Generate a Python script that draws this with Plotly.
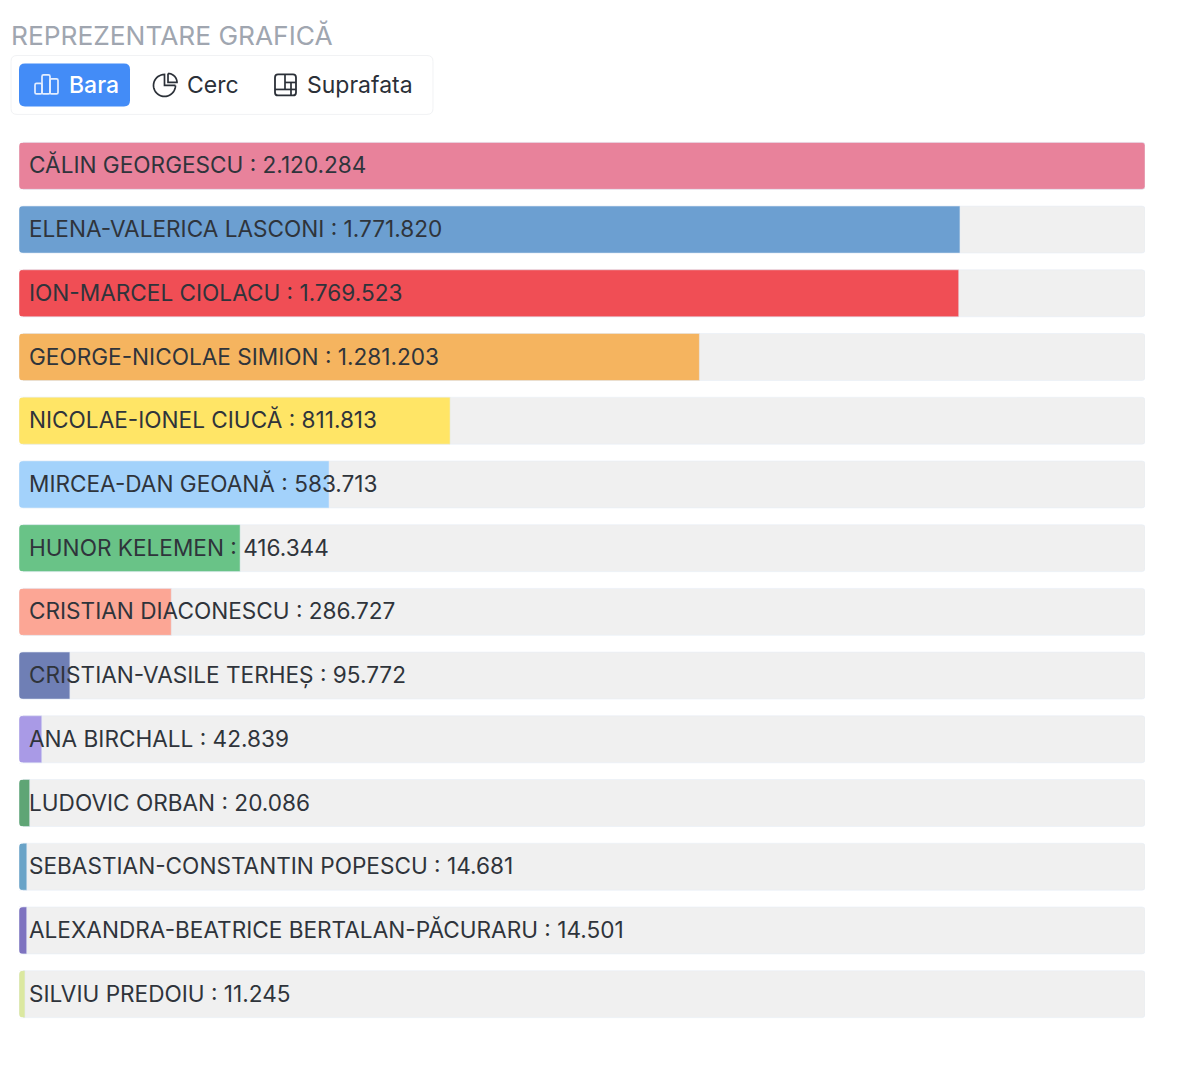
import math
import plotly.graph_objects as go

names = ["CĂLIN GEORGESCU", "ELENA-VALERICA LASCONI", "ION-MARCEL CIOLACU", "GEORGE-NICOLAE SIMION",
         "NICOLAE-IONEL CIUCĂ", "MIRCEA-DAN GEOANĂ", "HUNOR KELEMEN", "CRISTIAN DIACONESCU",
         "CRISTIAN-VASILE TERHEȘ", "ANA BIRCHALL", "LUDOVIC ORBAN", "SEBASTIAN-CONSTANTIN POPESCU",
         "ALEXANDRA-BEATRICE BERTALAN-PĂCURARU", "SILVIU PREDOIU"]
votes = [2120284, 1771820, 1769523, 1281203, 811813, 583713, 416344, 286727, 95772, 42839, 20086, 14681, 14501, 11245]
colors = ["#e8829b", "#6c9fd1", "#f04e55", "#f5b45f", "#ffe566", "#a3d2fb", "#69c387", "#fca695",
          "#6f7fb5", "#a99ae6", "#5fa575", "#69a3c7", "#7e73c0", "#dbe8a0"]
labels = [f"{n} : {v:,}".replace(",", ".") for n, v in zip(names, votes)]
track = [max(votes)] * len(votes)

W, H = 1200, 1068
L, R, T, B = 19, 1145, 133.6, 1026.5
TEXT = "#2f343b"
FONT = "Inter"


def px(x):
    return (x - L) / (R - L)


def py(y):
    return 1 - (y - T) / (B - T)


def rrect(x0, y0, x1, y1, r, fill="rgba(0,0,0,0)", line="rgba(0,0,0,0)", lw=0):
    p = lambda x, y: f"{px(x):.5f},{py(y):.5f}"
    d = (f"M{p(x0 + r, y0)} L{p(x1 - r, y0)} Q{p(x1, y0)} {p(x1, y0 + r)} L{p(x1, y1 - r)} "
         f"Q{p(x1, y1)} {p(x1 - r, y1)} L{p(x0 + r, y1)} Q{p(x0, y1)} {p(x0, y1 - r)} "
         f"L{p(x0, y0 + r)} Q{p(x0, y0)} {p(x0 + r, y0)} Z")
    return dict(type="path", xref="paper", yref="paper", path=d, fillcolor=fill,
                line=dict(color=line, width=lw), layer="above")


def poly(points, line, lw=1.7):
    d = "M" + " L".join(f"{px(x):.5f},{py(y):.5f}" for x, y in points)
    return dict(type="path", xref="paper", yref="paper", path=d, line=dict(color=line, width=lw), layer="above")


def arc(cx, cy, r, a0, a1):
    return [(cx + r * math.cos(math.radians(a0 + (a1 - a0) * i / 30)),
             cy + r * math.sin(math.radians(a0 + (a1 - a0) * i / 30))) for i in range(31)]


def corner_masks(i, r=4.0, half=23.5):
    pitch = (B - T) / len(names)
    c = T + (i + 0.5) * pitch
    out = []
    for y0, sign in ((c - half, 1), (c + half, -1)):
        p = lambda x, y: f"{px(x):.5f},{py(y):.5f}"
        d = f"M{p(L - 0.5, y0 - sign * 0.5)} L{p(L + r, y0 - sign * 0.5)} L{p(L + r, y0)} Q{p(L, y0)} {p(L, y0 + sign * r)} L{p(L - 0.5, y0 + sign * r)} Z"
        out.append(dict(type="path", xref="paper", yref="paper", path=d, fillcolor="#ffffff",
                        line=dict(width=0), layer="above"))
    return out


fig = go.Figure()
fig.add_bar(x=track, y=names, orientation="h", marker=dict(color="#f0f0f0"), hoverinfo="skip")
fig.add_bar(x=votes, y=names, orientation="h", marker=dict(color=colors), hovertext=labels, hoverinfo="text")

annotations = [dict(x=0, y=n, xref="x", yref="y", text=t, showarrow=False, xanchor="left", xshift=8, yshift=1,
                    font=dict(family=FONT, size=22.6, color=TEXT)) for n, t in zip(names, labels)]


def label(x, y, text, size, color, weight=400):
    return dict(x=px(x), y=py(y), xref="paper", yref="paper", text=text, showarrow=False, xanchor="left",
                yanchor="middle", font=dict(family=FONT, size=size, color=color, weight=weight))


annotations += [
    label(8.5, 35, "REPREZENTARE GRAFICĂ", 26.3, "#a0a6b0"),
    label(67, 85, "Bara", 23, "#ffffff", 500),
    label(185, 85, "Cerc", 23, "#2b3038"),
    label(305, 85, "Suprafata", 23, "#2b3038"),
]

ink = "#2b3038"
icon = "#e4eeff"
shapes = [
    rrect(11, 55, 433, 114, 6, fill="#ffffff", line="#f1f2f4", lw=1),
    rrect(19, 63, 130, 106, 6, fill="#438cf7"),
    rrect(35, 83, 42, 93.5, 1.5, line=icon, lw=1.7),
    rrect(42, 74.5, 50, 93.5, 1.5, line=icon, lw=1.7),
    rrect(50, 78.5, 58, 93.5, 1.5, line=icon, lw=1.7),
    poly(arc(164.5, 85, 11, 0, 270) + [(164.5, 85), (175.5, 85)], ink),
    poly(arc(168, 82, 9, -90, 0) + [(168, 82), (168, 73)], ink),
    rrect(275, 74, 296, 95, 3, line=ink, lw=1.8),
    poly([(285, 74), (285, 89)], ink),
    poly([(275, 89), (296, 89)], ink),
    poly([(285, 82), (296, 82)], ink),
    poly([(291, 82), (291, 95)], ink),
]
for i in range(len(names)):
    shapes += corner_masks(i)

fig.update_layout(
    width=W, height=H, margin=dict(l=L, r=W - R, t=T, b=H - B, pad=0, autoexpand=False),
    paper_bgcolor="#ffffff", plot_bgcolor="#ffffff",
    barmode="overlay", bargap=0.263, barcornerradius=3, showlegend=False,
    xaxis=dict(visible=False, range=[0, max(votes)], fixedrange=True),
    yaxis=dict(visible=False, type="category", categoryorder="array", categoryarray=names,
               range=[len(names) - 0.5, -0.5], fixedrange=True),
    annotations=annotations, shapes=shapes,
)
fig.write_html("out.html", config=dict(displayModeBar=False),
               post_script="document.body.style.margin='0';document.body.style.overflow='hidden';")
